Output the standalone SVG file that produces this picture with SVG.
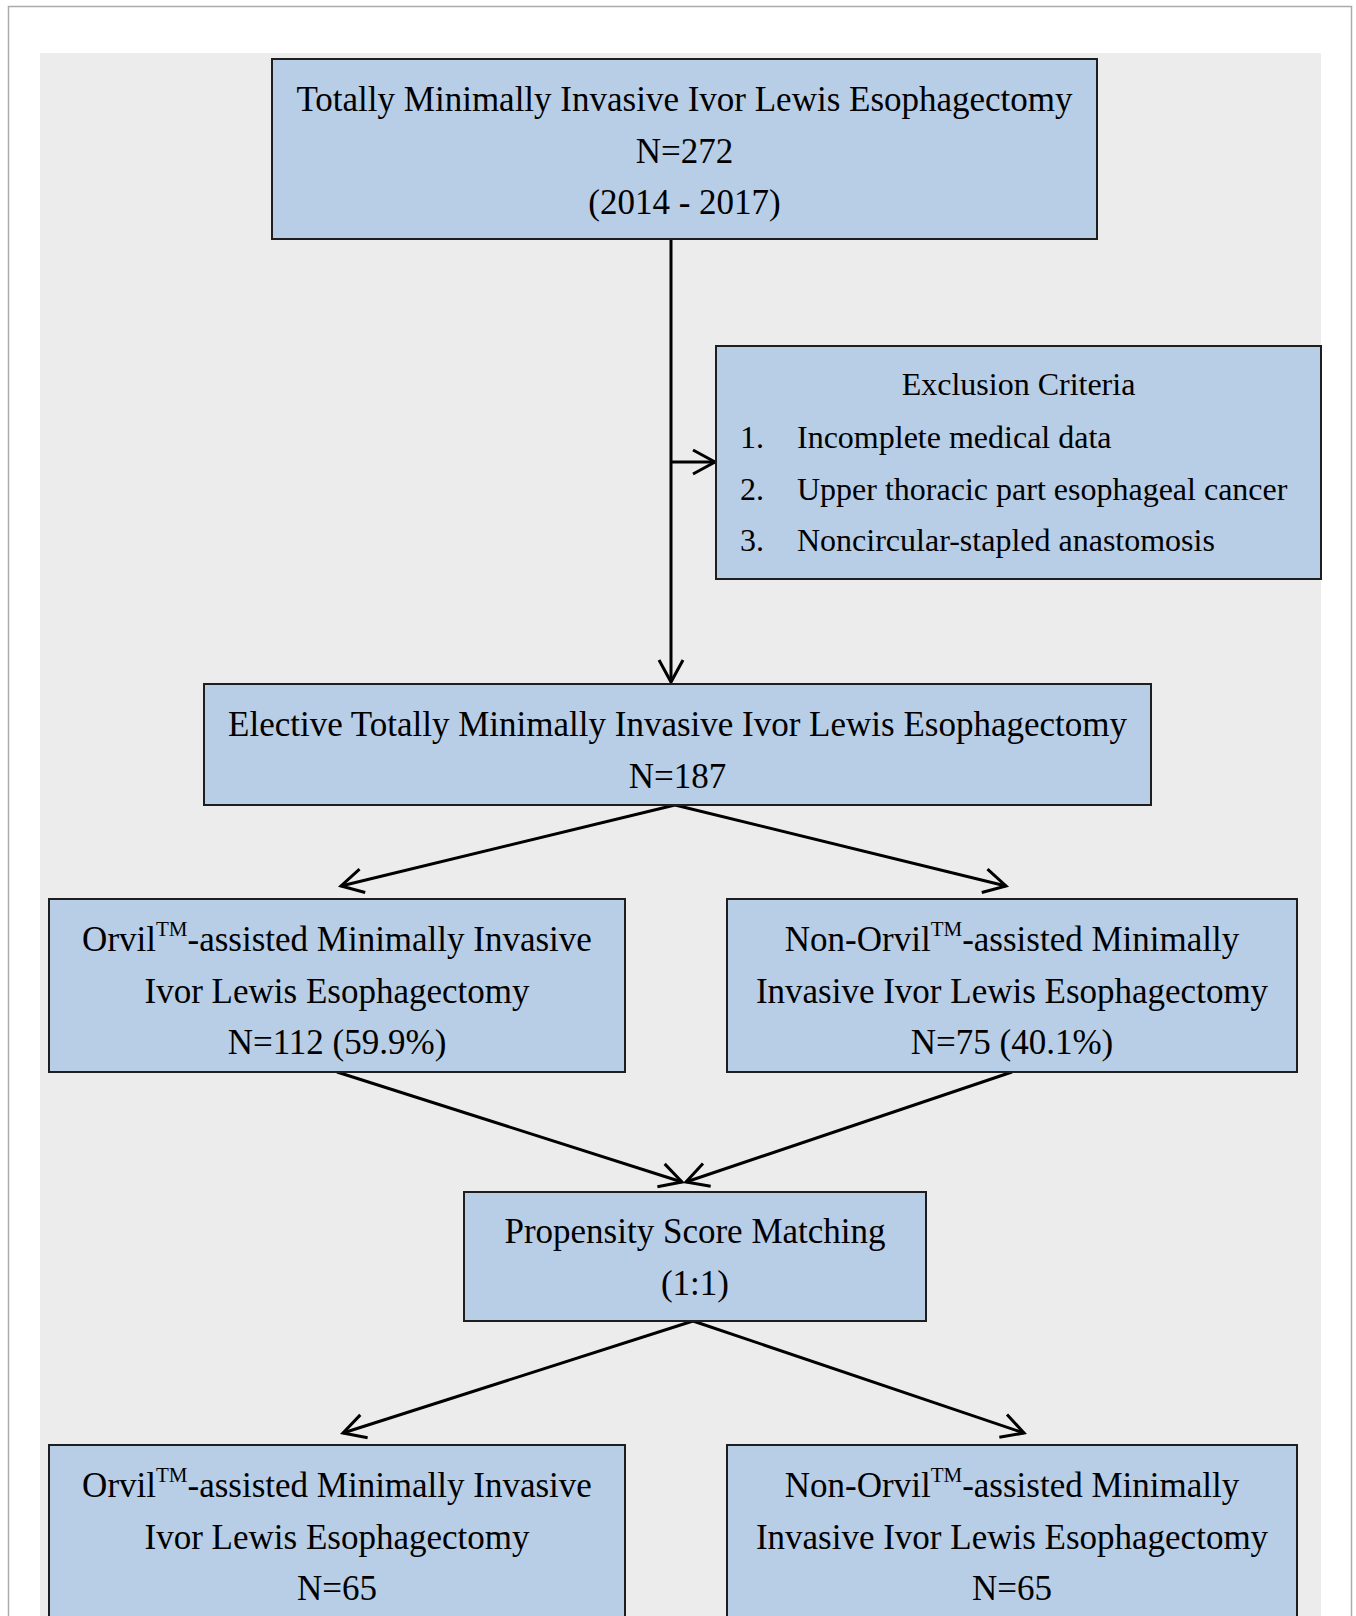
<svg xmlns="http://www.w3.org/2000/svg" width="1356" height="1616" viewBox="0 0 1356 1616">
<style>
.box{fill:#b8cde6;stroke:#1e1e1e;stroke-width:2}
.t{font-family:"Liberation Serif","Times New Roman",serif;font-size:35px;fill:#000;text-anchor:middle}
.s{font-family:"Liberation Serif","Times New Roman",serif;font-size:32px;fill:#000}
.tm{font-size:21px}
.c{fill:none;stroke:#000;stroke-width:3}
</style>
<defs>
<marker id="arr" markerUnits="userSpaceOnUse" markerWidth="40" markerHeight="40" refX="0" refY="0" viewBox="-30 -20 40 40" orient="auto" overflow="visible">
<path d="M-22,-12 L0,0 L-22,12" fill="none" stroke="#000" stroke-width="3"/>
</marker>
</defs>
<rect x="0" y="0" width="1356" height="1616" fill="#fff"/>
<rect x="8.5" y="6.5" width="1343" height="1640" fill="none" stroke="#ababab" stroke-width="1.5"/>
<rect x="40" y="53" width="1281" height="1600" fill="#ececec"/>
<g id="connectors">
<line class="c" x1="671" y1="239" x2="671" y2="682" marker-end="url(#arr)"/>
<line class="c" x1="671" y1="462" x2="715" y2="462" marker-end="url(#arr)"/>
<line class="c" x1="675" y1="805" x2="341" y2="886" marker-end="url(#arr)"/>
<line class="c" x1="675" y1="805" x2="1006" y2="886" marker-end="url(#arr)"/>
<line class="c" x1="337" y1="1072" x2="682" y2="1182" marker-end="url(#arr)"/>
<line class="c" x1="1012" y1="1072" x2="686" y2="1182" marker-end="url(#arr)"/>
<line class="c" x1="693" y1="1321" x2="343" y2="1433" marker-end="url(#arr)"/>
<line class="c" x1="693" y1="1321" x2="1024" y2="1433" marker-end="url(#arr)"/>
</g>
<g id="n1">
<rect class="box" x="272" y="59" width="825" height="180"/>
<text class="t" x="684.5" y="111">Totally Minimally Invasive Ivor Lewis Esophagectomy</text>
<text class="t" x="684.5" y="162.5">N=272</text>
<text class="t" x="684.5" y="214">(2014 - 2017)</text>
</g>
<g id="n2">
<rect class="box" x="716" y="346" width="605" height="233"/>
<text class="s" x="1018.5" y="395" text-anchor="middle">Exclusion Criteria</text>
<text class="s" x="740" y="448">1.</text>
<text class="s" x="797" y="448">Incomplete medical data</text>
<text class="s" x="740" y="500">2.</text>
<text class="s" x="797" y="500">Upper thoracic part esophageal cancer</text>
<text class="s" x="740" y="551">3.</text>
<text class="s" x="797" y="551">Noncircular-stapled anastomosis</text>
</g>
<g id="n3">
<rect class="box" x="204" y="684" width="947" height="121"/>
<text class="t" x="677.5" y="736">Elective Totally Minimally Invasive Ivor Lewis Esophagectomy</text>
<text class="t" x="677.5" y="788">N=187</text>
</g>
<g id="n4">
<rect class="box" x="49" y="899" width="576" height="173"/>
<text class="t" x="337" y="951">Orvil<tspan class="tm" dy="-15">TM</tspan><tspan dy="15">-assisted Minimally Invasive</tspan></text>
<text class="t" x="337" y="1002.5">Ivor Lewis Esophagectomy</text>
<text class="t" x="337" y="1054">N=112 (59.9%)</text>
</g>
<g id="n5">
<rect class="box" x="727" y="899" width="570" height="173"/>
<text class="t" x="1012" y="951">Non-Orvil<tspan class="tm" dy="-15">TM</tspan><tspan dy="15">-assisted Minimally</tspan></text>
<text class="t" x="1012" y="1002.5">Invasive Ivor Lewis Esophagectomy</text>
<text class="t" x="1012" y="1054">N=75 (40.1%)</text>
</g>
<g id="n6">
<rect class="box" x="464" y="1192" width="462" height="129"/>
<text class="t" x="695" y="1243">Propensity Score Matching</text>
<text class="t" x="695" y="1295">(1:1)</text>
</g>
<g id="n7">
<rect class="box" x="49" y="1445" width="576" height="200"/>
<text class="t" x="337" y="1497">Orvil<tspan class="tm" dy="-15">TM</tspan><tspan dy="15">-assisted Minimally Invasive</tspan></text>
<text class="t" x="337" y="1548.5">Ivor Lewis Esophagectomy</text>
<text class="t" x="337" y="1600">N=65</text>
</g>
<g id="n8">
<rect class="box" x="727" y="1445" width="570" height="200"/>
<text class="t" x="1012" y="1497">Non-Orvil<tspan class="tm" dy="-15">TM</tspan><tspan dy="15">-assisted Minimally</tspan></text>
<text class="t" x="1012" y="1548.5">Invasive Ivor Lewis Esophagectomy</text>
<text class="t" x="1012" y="1600">N=65</text>
</g>
</svg>
